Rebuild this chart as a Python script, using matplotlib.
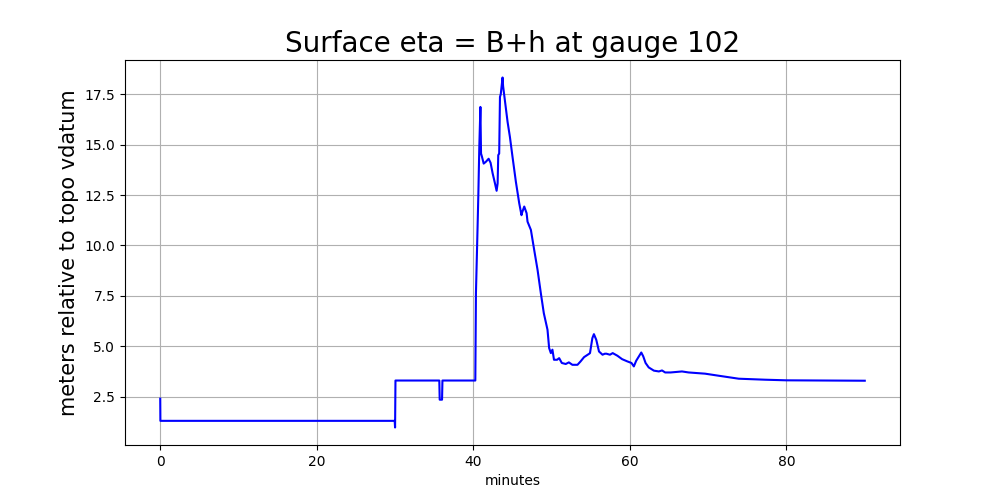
import matplotlib
matplotlib.use("Agg")
import matplotlib.pyplot as plt

minutes = [0.0, 0.02, 29.95, 30.0, 30.05, 35.65, 35.7, 36.0, 36.05, 40.25, 40.33, 40.54,
           40.64, 40.76, 40.9, 40.98, 41.1, 41.32, 41.6, 41.95, 42.2, 42.46, 42.76, 42.97,
           43.1, 43.18, 43.3, 43.4, 43.5, 43.73, 43.8, 44.08, 44.37, 44.67, 45.0, 45.43,
           45.86, 46.15, 46.2, 46.5, 46.8, 46.92, 47.35, 47.77, 48.2, 48.62, 49.0, 49.47,
           49.68, 49.9, 50.1, 50.3, 50.7, 50.96, 51.3, 51.8, 52.2, 52.65, 53.3, 53.7,
           54.14, 54.8, 54.9, 55.2, 55.4, 55.7, 56.05, 56.5, 56.8, 57.0, 57.45, 57.8,
           58.4, 59.0, 59.66, 60.2, 60.5, 60.8, 61.15, 61.45, 61.7, 62.0, 62.4, 63.06,
           63.7, 64.1, 64.5, 65.2, 66.65, 67.5, 69.6, 71.3, 73.9, 77.3, 80.0, 90.0]
eta = [2.4, 1.3, 1.3, 0.97, 3.3, 3.3, 2.35, 2.35, 3.3, 3.3, 7.63, 10.93,
       12.58, 14.9, 16.87, 14.56, 14.4, 14.06, 14.15, 14.3, 14.1, 13.58, 13.08, 12.71,
       13.08, 14.48, 14.56, 17.37, 17.5, 18.33, 17.9, 17.03, 16.13, 15.38, 14.4, 13.16,
       12.09, 11.5, 11.6, 11.93, 11.6, 11.18, 10.77, 9.78, 8.79, 7.63, 6.64, 5.82,
       4.91, 4.66, 4.83, 4.33, 4.33, 4.41, 4.17, 4.12, 4.2, 4.08, 4.08, 4.25,
       4.46, 4.63, 4.66, 5.4, 5.6, 5.32, 4.74, 4.58, 4.63, 4.63, 4.58, 4.66,
       4.53, 4.36, 4.25, 4.17, 4.0, 4.28, 4.5, 4.69, 4.5, 4.17, 3.95, 3.79,
       3.75, 3.8, 3.7, 3.7, 3.75, 3.7, 3.64, 3.54, 3.39, 3.34, 3.31, 3.29]

fig, ax = plt.subplots(figsize=(10, 5), dpi=100)
ax.plot(minutes, eta, color="blue", linewidth=1.5)
ax.grid(True)
ax.set_title("Surface eta = B+h at gauge 102", fontsize=20)
ax.set_xlabel("minutes")
ax.set_ylabel("meters relative to topo vdatum", fontsize=15)
fig.savefig("out.png")
